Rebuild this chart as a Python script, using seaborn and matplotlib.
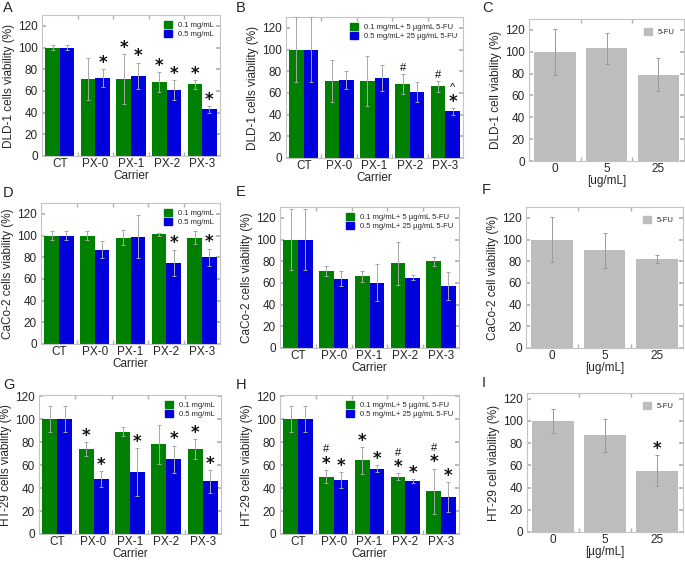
import numpy as np
import pandas as pd
import matplotlib
matplotlib.use("Agg")
import matplotlib.pyplot as plt
from matplotlib.patches import Patch
from matplotlib.ticker import FixedLocator
import seaborn as sns

# ---------------- data ----------------
carriers = ["CT", "PX-0", "PX-1", "PX-2", "PX-3"]
doses = ["0", "5", "25"]

lab_single = ["0.1 mg/mL", "0.5 mg/mL"]
lab_combo = ["0.1 mg/mL+ 5 \u00b5g/mL 5-FU", "0.5 mg/mL+ 25 \u00b5g/mL 5-FU"]

# A: DLD-1 carrier
A_low = [100, 71, 71, 68, 66]
A_low_err = [2, 19, 23, 9, 4]
A_high = [100, 72, 74, 61, 43]
A_high_err = [2, 8, 12, 9, 3]
A_mark_low = ["", "", "*", "*", "*"]
A_mark_high = ["", "*", "*", "*", "*"]

# B: DLD-1 carrier + 5-FU
B_low = [100, 71, 71, 68, 66]
B_low_err = [30, 19, 23, 9, 5]
B_high = [100, 72, 74, 61, 43]
B_high_err = [30, 8, 12, 9, 3]
B_mark_low = ["", "", "", "#", "#"]
B_mark_high = ["", "", "", "", "^\n*"]

# C: DLD-1 5-FU
C_vals = [100, 103, 79]
C_err = [21, 14, 15]
C_mark = ["", "", ""]

# D: CaCo-2 carrier
D_low = [100, 100, 98, 101, 98]
D_low_err = [4, 4, 7, 1, 6]
D_high = [100, 87, 99, 75, 80]
D_high_err = [4, 8, 20, 12, 8]
D_mark_low = ["", "", "", "", ""]
D_mark_high = ["", "", "", "*", "*"]

# E: CaCo-2 carrier + 5-FU
E_low = [100, 71, 66, 78, 80]
E_low_err = [28, 5, 5, 20, 4]
E_high = [100, 64, 60, 65, 57]
E_high_err = [28, 7, 17, 2, 13]
E_mark_low = ["", "", "", "", ""]
E_mark_high = ["", "", "", "", ""]

# F: CaCo-2 5-FU
F_vals = [100, 90, 82]
F_err = [21, 16, 4]
F_mark = ["", "", ""]

# G: HT-29 carrier
G_low = [100, 74, 89, 78, 74]
G_low_err = [11, 6, 4, 17, 9]
G_high = [100, 48, 54, 65, 46]
G_high_err = [11, 7, 21, 12, 10]
G_mark_low = ["", "*", "", "", "*"]
G_mark_high = ["", "*", "*", "*", "*"]

# H: HT-29 carrier + 5-FU
H_low = [100, 50, 64, 50, 37]
H_low_err = [11, 6, 12, 3, 20]
H_high = [100, 47, 57, 46, 32]
H_high_err = [11, 7, 3, 2, 13]
H_mark_low = ["", "#\n*", "*", "#\n*", "#\n*"]
H_mark_high = ["", "*", "*", "*", "*"]

# I: HT-29 5-FU
I_vals = [100, 87, 55]
I_err = [11, 15, 14]
I_mark = ["", "", "*"]

# ---------------- style ----------------
sns.set_theme(style="white")
plt.rcParams["font.family"] = ["Liberation Sans", "DejaVu Sans"]
plt.rcParams["axes.edgecolor"] = "#c4c4c4"
plt.rcParams["axes.linewidth"] = 0.8

GREEN = "#008000"
BLUE = "#0000dd"
GRAY = "#bdbdbd"
ECOL = "#a8a8a8"

W, Hh = 685, 562
fig = plt.figure(figsize=(W / 100, Hh / 100), dpi=100)


def rect(l, r, t, b):
    return [l / W, 1 - b / Hh, (r - l) / W, (b - t) / Hh]


def style_axes(ax, n, ylim):
    ax.set_xlim(-0.5, n - 0.5)
    ax.set_ylim(*ylim)
    ax.set_yticks([0, 20, 40, 60, 80, 100, 120])
    ax.xaxis.set_minor_locator(FixedLocator([i + 0.5 for i in range(n - 1)]))
    ax.tick_params(axis="y", which="major", direction="in", length=3,
                   color="#b0b0b0", left=True, right=True, labelsize=8.5, pad=3)
    ax.tick_params(axis="x", which="major", length=0, labelsize=8.5, pad=1.5)
    ax.tick_params(axis="x", which="minor", direction="in", length=3,
                   color="#b0b0b0", bottom=True, top=True)
    for s in ax.spines.values():
        s.set_visible(True)
        s.set_color("#c4c4c4")
        s.set_linewidth(0.8)


def annotate(ax, xs, tops, marks):
    for x, t, m in zip(xs, tops, marks):
        if not m:
            continue
        y = t
        for line in reversed(m.split("\n")):
            if line == "*":
                ax.text(x, y - 2.5, "*", ha="center", va="bottom", fontsize=12,
                        fontweight="bold", family="DejaVu Sans",
                        color="#111111")
                y += 12.5
            else:
                ax.text(x, y + 1.0, line, ha="center", va="bottom",
                        fontsize=8, color="#111111")
                y += 9


def grouped(rc, low, low_err, high, high_err, labels, mlow, mhigh, ylim,
            ylabel):
    ax = fig.add_axes(rect(*rc))
    df = pd.DataFrame({
        "Carrier": carriers * 2,
        "v": low + high,
        "g": [labels[0]] * len(carriers) + [labels[1]] * len(carriers),
    })
    sns.barplot(data=df, x="Carrier", y="v", hue="g", order=carriers,
                hue_order=labels, palette=[GREEN, BLUE], errorbar=None,
                width=0.82, saturation=1, linewidth=0, ax=ax)
    for cont, errs, marks in zip(ax.containers, [low_err, high_err],
                                 [mlow, mhigh]):
        xs = [p.get_x() + p.get_width() / 2 for p in cont]
        ys = [p.get_height() for p in cont]
        ax.errorbar(xs, ys, yerr=errs, fmt="none", ecolor=ECOL,
                    elinewidth=0.7, capsize=1.5, capthick=0.7, zorder=3)
        annotate(ax, xs, [y + e for y, e in zip(ys, errs)], marks)
    style_axes(ax, len(carriers), ylim)
    ax.set_xlabel("Carrier", fontsize=8.5, labelpad=0)
    ax.set_ylabel(ylabel, fontsize=8.5, labelpad=2)
    handles = [Patch(color=GREEN, label=labels[0]),
               Patch(color=BLUE, label=labels[1])]
    ax.legend(handles=handles, loc="upper right", frameon=False, fontsize=5.5,
              handlelength=1.0, handleheight=1.0, handletextpad=0.8,
              labelspacing=0.15, borderaxespad=0.4)
    return ax


def single(rc, vals, errs, marks, ylim, ylabel, xlabel):
    ax = fig.add_axes(rect(*rc))
    sns.barplot(x=doses, y=vals, order=doses, color=GRAY, errorbar=None,
                width=0.8, saturation=1, linewidth=0, ax=ax)
    cont = ax.containers[0]
    xs = [p.get_x() + p.get_width() / 2 for p in cont]
    ys = [p.get_height() for p in cont]
    ax.errorbar(xs, ys, yerr=errs, fmt="none", ecolor="#999999",
                elinewidth=0.7, capsize=1.5, capthick=0.7, zorder=3)
    annotate(ax, xs, [y + e for y, e in zip(ys, errs)], marks)
    style_axes(ax, len(doses), ylim)
    ax.set_xlabel(xlabel, fontsize=8.5, labelpad=0)
    ax.set_ylabel(ylabel, fontsize=8.5, labelpad=2)
    ax.legend(handles=[Patch(color=GRAY, label="5-FU")], loc="upper right",
              frameon=False, fontsize=5.5, handlelength=1.0, handleheight=1.0,
              handletextpad=0.8, borderaxespad=0.8)
    return ax


grouped((42, 220, 15, 156), A_low, A_low_err, A_high, A_high_err, lab_single,
        A_mark_low, A_mark_high, (0, 130), "DLD-1 cells viability (%)")
grouped((286, 463, 17, 158), B_low, B_low_err, B_high, B_high_err, lab_combo,
        B_mark_low, B_mark_high, (0, 130), "DLD-1 cells viability (%)")
single((529, 684, 19, 161), C_vals, C_err, C_mark, (0, 130),
       "DLD-1 cell viability (%)", "[ug/mL]")

grouped((41, 220, 203, 344), D_low, D_low_err, D_high, D_high_err, lab_single,
        D_mark_low, D_mark_high, (0, 130), "CaCo-2 cells viability (%)")
grouped((280, 459, 207, 348), E_low, E_low_err, E_high, E_high_err, lab_combo,
        E_mark_low, E_mark_high, (0, 130), "CaCo-2 cells viability (%)")
single((526, 683, 207, 348), F_vals, F_err, F_mark, (0, 130),
       "CaCo-2 cell viability (%)", "[ug/mL]")

grouped((39, 221, 395, 534), G_low, G_low_err, G_high, G_high_err, lab_single,
        G_mark_low, G_mark_high, (0, 121), "HT-29 cells viability (%)")
grouped((280, 459, 395, 534), H_low, H_low_err, H_high, H_high_err, lab_combo,
        H_mark_low, H_mark_high, (0, 121), "HT-29 cells viability (%)")
single((527, 683, 393, 532), I_vals, I_err, I_mark, (0, 125),
       "HT-29 cell viability (%)", "[\u00b5g/mL]")

# panel letters
for letter, px, py in [("A", 3, 8), ("B", 236, 8), ("C", 482, 8),
                       ("D", 3, 193), ("E", 236, 192), ("F", 482, 190),
                       ("G", 3, 385), ("H", 236, 385), ("I", 482, 383)]:
    fig.text(px / W, 1 - py / Hh, letter, fontsize=10.5, ha="left",
             va="center")

fig.savefig("out.png", dpi=100)
